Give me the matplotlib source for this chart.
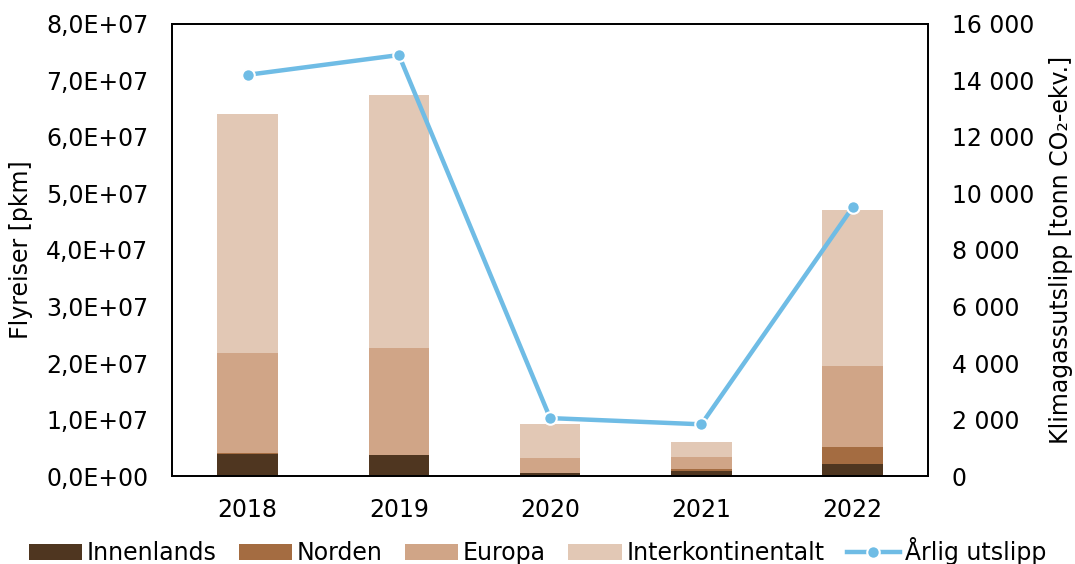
import numpy as np
import matplotlib.pyplot as plt
from matplotlib.ticker import FuncFormatter

years = ['2018', '2019', '2020', '2021', '2022']
innenlands = [0.39e7, 0.37e7, 0.06e7, 0.08e7, 0.21e7]
norden = [0.01e7, 0.0, 0.0, 0.05e7, 0.30e7]
europa = [1.78e7, 1.90e7, 0.25e7, 0.21e7, 1.44e7]
interkont = [4.23e7, 4.47e7, 0.61e7, 0.27e7, 2.76e7]
utslipp = [14200, 14900, 2050, 1830, 9510]

colors = ['#4f3620', '#a46c41', '#d0a587', '#e2c8b5']
line_color = '#6fbce5'

plt.rcParams['font.family'] = 'DejaVu Sans'
fs = 17
fig = plt.figure(figsize=(10.75, 5.64), dpi=100)
ax = fig.add_axes([0.16, 0.156, 0.7035, 0.8015])

x = np.arange(len(years))
bottom = np.zeros(len(years))
series = [('Innenlands', innenlands), ('Norden', norden),
          ('Europa', europa), ('Interkontinentalt', interkont)]
for (name, vals), c in zip(series, colors):
    ax.bar(x, vals, 0.4, bottom=bottom, color=c, label=name)
    bottom += np.array(vals)

ax.set_xlim(-0.5, 4.5)
ax.set_ylim(0, 8e7)
ax.set_yticks(np.arange(0, 8.1e7, 1e7))
ax.yaxis.set_major_formatter(FuncFormatter(
    lambda v, p: ('%.1fE+%02d' % (v / 1e7, 7)).replace('.', ',') if v else '0,0E+00'))
ax.set_xticks(x)
ax.set_xticklabels(years)
ax.tick_params(axis='y', length=0, labelsize=fs, pad=17)
ax.tick_params(axis='x', length=0, labelsize=fs, pad=16)
ax.set_ylabel('Flyreiser [pkm]', fontsize=fs)
ax.yaxis.set_label_coords(-0.184, 0.5)
for s in ax.spines.values():
    s.set_linewidth(1.3)

ax2 = ax.twinx()
ax2.plot(x, utslipp, color=line_color, lw=3.2, marker='o', ms=9,
         mec='white', mew=1.5, label='Årlig utslipp')
ax2.set_ylim(0, 16000)
ax2.set_yticks(np.arange(0, 16001, 2000))
ax2.yaxis.set_major_formatter(FuncFormatter(
    lambda v, p: '{:,.0f}'.format(v).replace(',', ' ')))
ax2.tick_params(length=0, labelsize=fs, pad=17)
ax2.set_ylabel('Klimagassutslipp [tonn CO\u2082-ekv.]', fontsize=fs)
ax2.yaxis.set_label_coords(1.160, 0.5)
for s in ax2.spines.values():
    s.set_linewidth(1.3)

h1, l1 = ax.get_legend_handles_labels()
h2, l2 = ax2.get_legend_handles_labels()
fig.legend(h1 + h2, l1 + l2, loc='lower center', bbox_to_anchor=(0.5, -0.04),
           ncol=5, frameon=False, fontsize=fs, handlelength=2.25,
           handleheight=0.7, columnspacing=0.95, handletextpad=0.2)

fig.savefig('out.png', dpi=100)
